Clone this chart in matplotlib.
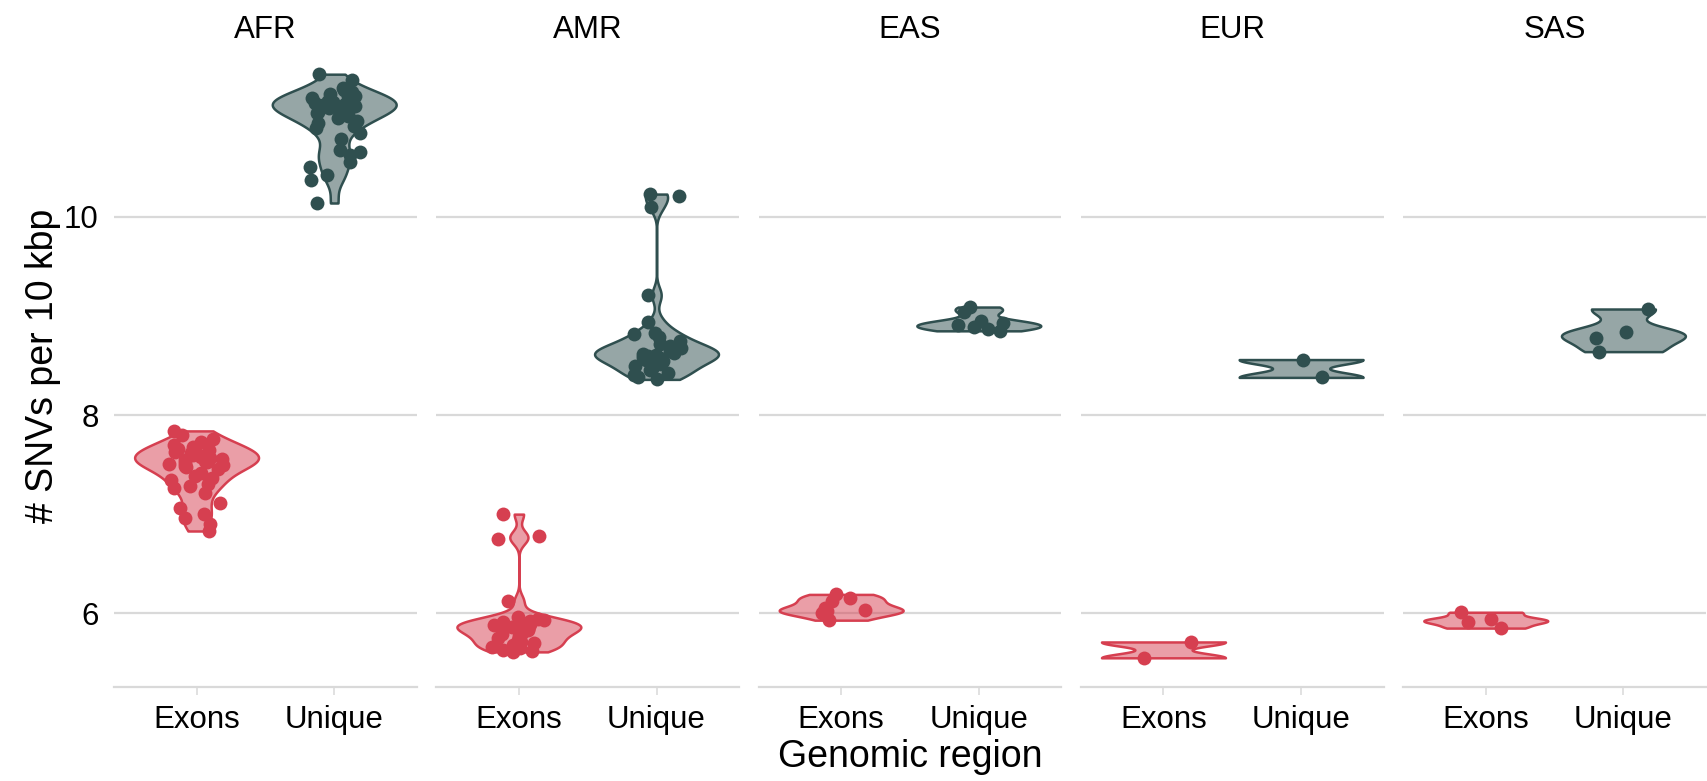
import numpy as np
import matplotlib.pyplot as plt
from matplotlib.colors import to_rgba

plt.rcParams['font.family'] = ['Liberation Sans', 'DejaVu Sans']

populations = ["AFR", "AMR", "EAS", "EUR", "SAS"]
regions = ["Exons", "Unique"]

# SNVs per 10 kbp, per sample
afr_exons = [7.84, 7.80, 7.76, 7.73, 7.70, 7.68, 7.67, 7.66, 7.65, 7.63, 7.62, 7.60, 7.60,
             7.58, 7.57, 7.56, 7.55, 7.54, 7.53, 7.52, 7.51, 7.50, 7.49, 7.48, 7.46, 7.42,
             7.38, 7.36, 7.34, 7.30, 7.28, 7.26, 7.21, 7.11, 7.06, 7.00, 6.96, 6.90, 6.83]
afr_unique = [11.44, 11.38, 11.30, 11.28, 11.26, 11.24, 11.22, 11.22, 11.20, 11.19, 11.17,
              11.16, 11.15, 11.14, 11.13, 11.12, 11.12, 11.11, 11.10, 11.08, 11.06, 11.05,
              11.04, 11.02, 11.00, 10.97, 10.95, 10.92, 10.90, 10.85, 10.79, 10.67, 10.65,
              10.62, 10.55, 10.50, 10.42, 10.37, 10.14]
amr_exons = [7.00, 6.78, 6.75, 6.12, 5.96, 5.94, 5.93, 5.92, 5.91, 5.90, 5.89, 5.88, 5.87,
             5.86, 5.85, 5.84, 5.83, 5.82, 5.80, 5.79, 5.77, 5.75, 5.73, 5.71, 5.70, 5.68,
             5.66, 5.65, 5.63, 5.62, 5.61]
amr_unique = [10.23, 10.21, 10.10, 9.21, 8.94, 8.83, 8.82, 8.79, 8.75, 8.72, 8.70, 8.68,
              8.67, 8.65, 8.64, 8.63, 8.62, 8.61, 8.60, 8.59, 8.58, 8.56, 8.55, 8.52, 8.50,
              8.48, 8.45, 8.42, 8.40, 8.38, 8.36]
eas_exons = [6.19, 6.15, 6.12, 6.05, 6.03, 6.02, 6.00, 5.93]
eas_unique = [9.09, 9.04, 8.95, 8.93, 8.91, 8.89, 8.87, 8.85]
eur_exons = [5.71, 5.55]
eur_unique = [8.56, 8.38]
sas_exons = [6.01, 5.94, 5.91, 5.85]
sas_unique = [9.07, 8.84, 8.78, 8.64]

data = {
    "AFR": [afr_exons, afr_unique],
    "AMR": [amr_exons, amr_unique],
    "EAS": [eas_exons, eas_unique],
    "EUR": [eur_exons, eur_unique],
    "SAS": [sas_exons, sas_unique],
}

colors = ["#D63F50", "#2F4F4F"]
grid_col = "#D9D9D9"


def nrd0(kde):
    # R's bw.nrd0, expressed as a factor of the sample sd
    x = kde.dataset.ravel()
    sd = np.std(x, ddof=1)
    iqr = np.subtract(*np.percentile(x, [75, 25]))
    lo = min(sd, iqr / 1.34)
    return 0.9 * lo * len(x) ** -0.2 / sd


allvals = np.concatenate([np.asarray(v) for pair in data.values() for v in pair])
span = allvals.max() - allvals.min()
ylim = (allvals.min() - 0.05 * span, allvals.max() + 0.05 * span)

fig = plt.figure(figsize=(17.07, 7.81), dpi=100)
left, width, gap = 114 / 1707, 302.8 / 1707, 19.5 / 1707
bottom, top = 1 - 687 / 781, 1 - 45 / 781
rng = np.random.default_rng(3)

for i, pop in enumerate(populations):
    ax = fig.add_axes([left + i * (width + gap), bottom, width, top - bottom])
    groups = data[pop]
    parts = ax.violinplot(groups, positions=[1, 2], widths=0.9, showextrema=False,
                          points=512, bw_method=nrd0)
    for body, c in zip(parts['bodies'], colors):
        body.set_alpha(None)
        body.set_facecolor(to_rgba(c, 0.5))
        body.set_edgecolor(to_rgba(c, 1.0))
        body.set_linewidth(1.8)
        body.set_zorder(2)
    for j, (vals, c) in enumerate(zip(groups, colors)):
        jit = rng.uniform(-0.2, 0.2, len(vals))
        ax.scatter(np.full(len(vals), j + 1) + jit, vals, s=100, color=c,
                   linewidths=0, zorder=3)

    ax.set_xlim(0.4, 2.6)
    ax.set_ylim(*ylim)
    ax.set_yticks([6, 8, 10])
    ax.set_xticks([1, 2])
    ax.set_xticklabels(regions)
    ax.yaxis.grid(True, color=grid_col, linewidth=1.6, zorder=0)
    ax.set_axisbelow(True)
    for s in ["top", "right", "left"]:
        ax.spines[s].set_visible(False)
    ax.spines["bottom"].set_color(grid_col)
    ax.spines["bottom"].set_linewidth(1.6)
    ax.tick_params(axis="x", length=6, width=1.1, color=grid_col, labelsize=22.5, pad=7)
    ax.tick_params(axis="y", length=0, labelsize=22.5, pad=11)
    if i > 0:
        ax.tick_params(axis="y", labelleft=False)
    ax.set_title(pop, fontsize=22.5, pad=5)

fig.text(43 / 1707, (1 - 366 / 781), "# SNVs per 10 kbp", rotation=90,
         ha="center", va="center", fontsize=27)
fig.text(910 / 1707, 1 - 757 / 781, "Genomic region", ha="center", va="center",
         fontsize=27)

fig.savefig("out.png", dpi=100)
